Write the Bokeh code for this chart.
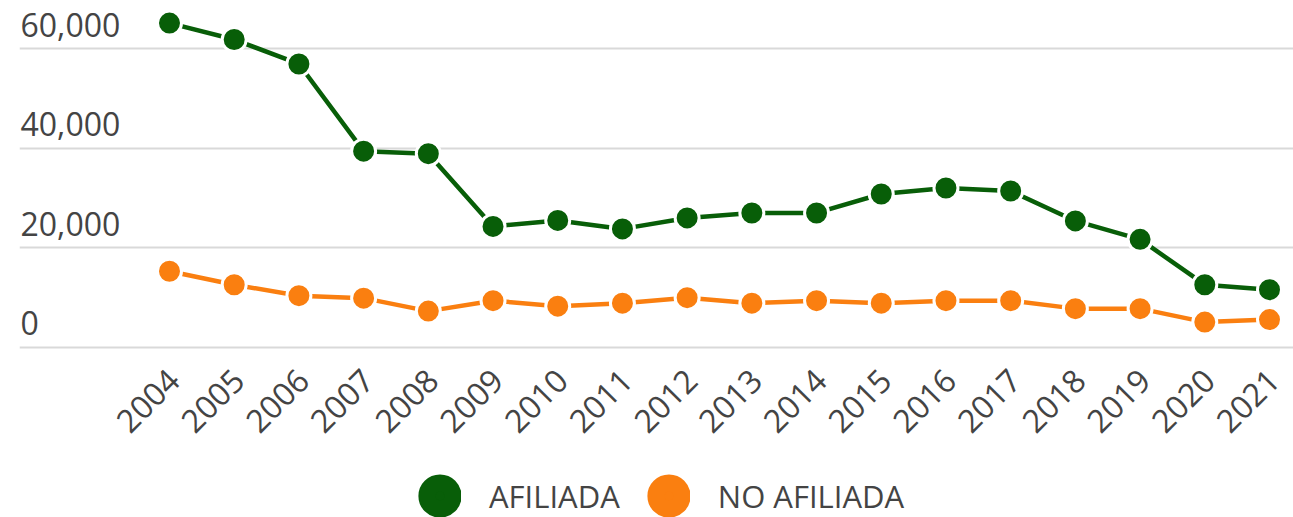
from bokeh.plotting import figure
from bokeh.models import Range1d, FixedTicker, Label, Legend, LegendItem, ColumnDataSource
from bokeh.embed import file_html
from bokeh.resources import INLINE
import math

years = [2004, 2005, 2006, 2007, 2008, 2009, 2010, 2011, 2012,
         2013, 2014, 2015, 2016, 2017, 2018, 2019, 2020, 2021]
afiliada = [65100, 61800, 56900, 39400, 38900, 24300, 25500, 23800, 26000,
            27000, 27000, 30800, 32000, 31400, 25400, 21700, 12600, 11600]
no_afiliada = [15300, 12600, 10400, 9900, 7300, 9400, 8300, 8900, 10000,
               8900, 9400, 8900, 9400, 9400, 7800, 7800, 5100, 5600]
y_ticks = [0, 20000, 40000, 60000]
y_tick_labels = ["0", "20,000", "40,000", "60,000"]
series_names = ["AFILIADA", "NO AFILIADA"]

GREEN = "#085e08"
ORANGE = "#fa7f10"
TEXT = "#444444"
FONT = "Open Sans"

p = figure(width=1293, height=517, output_backend="svg", toolbar_location=None,
           x_axis_location=None, y_axis_location=None,
           x_range=Range1d(2001.682, 2021.371), y_range=Range1d(-34116, 68031),
           min_border_left=19, min_border_right=0, min_border_top=8,
           min_border_bottom=0)
p.outline_line_color = None
p.background_fill_color = "white"
p.border_fill_color = "white"

p.xgrid.visible = False
p.ygrid.ticker = FixedTicker(ticks=y_ticks)
p.ygrid.grid_line_color = "#d9d9d9"
p.ygrid.grid_line_width = 2

# y tick labels (sitting above their grid lines)
for t, lab in zip(y_ticks, y_tick_labels):
    p.add_layout(Label(x=1, x_units="screen", y=t, y_units="data", text=lab,
                       y_offset=24, text_align="left", text_baseline="alphabetic",
                       text_font=FONT, text_font_size="32px", text_color=TEXT))

# x tick labels (rotated 45 degrees)
for yr in years:
    p.add_layout(Label(x=yr, x_units="data", y=143, y_units="screen", text=str(yr),
                       x_offset=4, angle=math.pi / 4, text_align="right",
                       text_baseline="middle", text_font=FONT,
                       text_font_size="32px", text_color=TEXT))

src = ColumnDataSource(dict(x=years, a=afiliada, n=no_afiliada))
swatches = []
for col, color in (("a", GREEN), ("n", ORANGE)):
    p.line("x", col, source=src, line_color=color, line_width=4.5)
    p.scatter("x", col, source=src, size=24, fill_color=color,
              line_color="white", line_width=3)
    # hidden proxy renderer used only to draw the big legend swatch
    swatches.append(p.scatter("x", col, source=src, size=10, fill_color=color,
                              line_color=color, line_width=26, visible=False))

legend = Legend(items=[LegendItem(label=series_names[0], renderers=[swatches[0]]),
                       LegendItem(label=series_names[1], renderers=[swatches[1]])],
                location=(399, 0), orientation="horizontal",
                glyph_width=43, glyph_height=43, label_standoff=28, spacing=27,
                padding=0, margin=0, border_line_color=None,
                background_fill_alpha=0, click_policy="none",
                label_text_font=FONT, label_text_font_size="31px",
                label_text_color=TEXT)
p.add_layout(legend)

open("out.html", "w").write(file_html(p, INLINE))
